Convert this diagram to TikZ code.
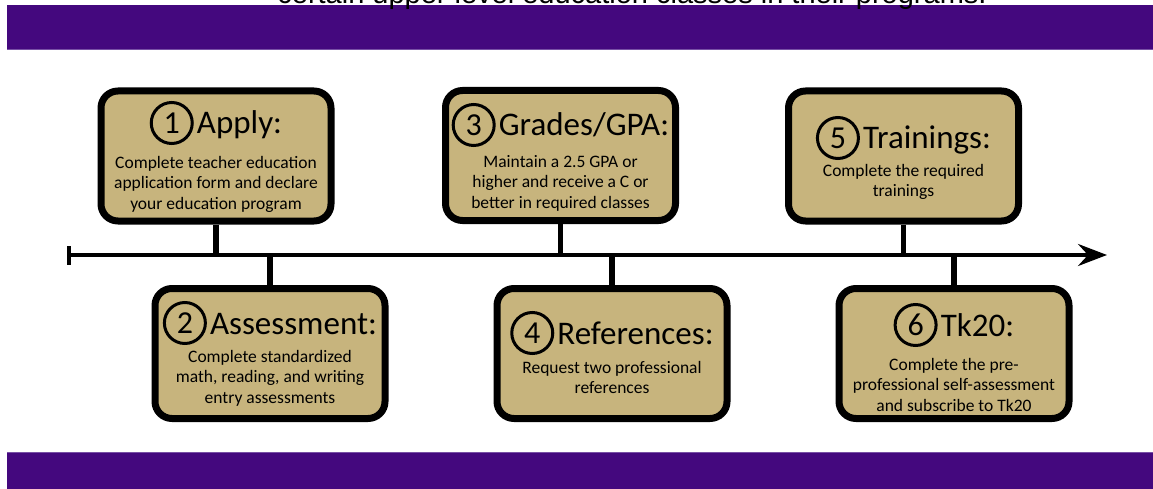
\documentclass[tikz,border=0pt]{standalone}
\usepackage{fontspec}
\setmainfont{Carlito}
\newfontfamily\arialfont{Liberation Sans}
\usetikzlibrary{arrows.meta}
\definecolor{boxtan}{RGB}{199,180,125}
\definecolor{bandpurple}{RGB}{68,8,126}
\definecolor{bandedge}{RGB}{120,80,165}
\begin{document}
\begin{tikzpicture}[x=1pt,y=-1pt,
  stepbox/.style={draw=black, line width=7pt, fill=boxtan, rounded corners=17pt,
    minimum width=230pt, minimum height=130pt, inner sep=0pt},
  numcircle/.style={circle, draw=black, line width=3pt, minimum size=41pt, inner sep=0pt,
    anchor=east, font=\fontsize{32}{32}\selectfont},
  titletext/.style={inner sep=0pt, anchor=base, font=\fontsize{33}{33}\selectfont},
  bodytext/.style={inner sep=0pt, align=center, anchor=north, font=\fontsize{17.5}{20.5}\selectfont},
  stem/.style={line width=5.5pt},
  band/.style={fill=bandpurple, draw=none},
  bandline/.style={fill=bandedge, draw=none}]
\clip (0,0) rectangle (1153,489);
\fill[white] (0,0) rectangle (1153,489);
% bands
\fill[band] (7,5) rectangle (1153,50);
\fill[bandline] (7,49) rectangle (1153,50.5);
\fill[band] (7,452) rectangle (1153,489);
\fill[bandline] (7,451.5) rectangle (1153,453);
\node[inner sep=0pt, anchor=base, font=\arialfont\fontsize{29}{29}\selectfont] (toptext) at (632,4)
  {certain upper level education classes in their programs.};
% timeline
\coordinate (tl0) at (67,255);
\coordinate (tl1) at (1107,255);
\draw[line width=4pt, {Bar[width=19pt]}-{Stealth[length=29pt,width=22pt,inset=10pt]}] (tl0) -- (tl1);
% boxes
\node[stepbox] (b1) at (216,156) {};
\node[stepbox] (b2) at (270,353.5) {};
\node[stepbox] (b3) at (560.5,155.5) {};
\node[stepbox] (b4) at (612,353.5) {};
\node[stepbox] (b5) at (903.5,156) {};
\node[stepbox] (b6) at (954,353.5) {};
% stems
\draw[stem] (b1.south) -- (b1.south |- tl0);
\draw[stem] (b3.south) -- (b3.south |- tl0);
\draw[stem] (b5.south) -- (b5.south |- tl0);
\draw[stem] (b2.north) -- (b2.north |- tl0);
\draw[stem] (b4.north) -- (b4.north |- tl0);
\draw[stem] (b6.north) -- (b6.north |- tl0);
% box 1
\node[titletext] (t1) at (239.5,134) {Apply:};
\node[numcircle] (n1) at ([xshift=-3pt]t1.west |- 0,123) {1};
\node[bodytext] (d1) at (216,156) {Complete teacher education\\application form and declare\\your education program};
% box 2
\node[titletext] (t2) at (293.5,334) {Assessment:};
\node[numcircle] (n2) at ([xshift=-3pt]t2.west |- 0,323) {2};
\node[bodytext] (d2) at (270,350) {Complete standardized\\math, reading, and writing\\entry assessments};
% box 3
\node[titletext] (t3) at (584,136) {Grades/GPA:};
\node[numcircle] (n3) at ([xshift=-3pt]t3.west |- 0,125) {3};
\node[bodytext] (d3) at (560.5,155) {Maintain a 2.5 GPA or\\higher and receive a C or\\better in required classes};
% box 4
\node[titletext] (t4) at (635.5,344) {References:};
\node[numcircle] (n4) at ([xshift=-3pt]t4.west |- 0,333) {4};
\node[bodytext] (d4) at (612,361) {Request two professional\\references};
% box 5
\node[titletext] (t5) at (927,149) {Trainings:};
\node[numcircle] (n5) at ([xshift=-3pt]t5.west |- 0,138) {5};
\node[bodytext] (d5) at (903.5,164) {Complete the required\\trainings};
% box 6
\node[titletext] (t6) at (977.5,336) {Tk20:};
\node[numcircle] (n6) at ([xshift=-3pt]t6.west |- 0,325) {6};
\node[bodytext] (d6) at (954,358) {Complete the pre-\\professional self-assessment\\and subscribe to Tk20};
\end{tikzpicture}
\end{document}
